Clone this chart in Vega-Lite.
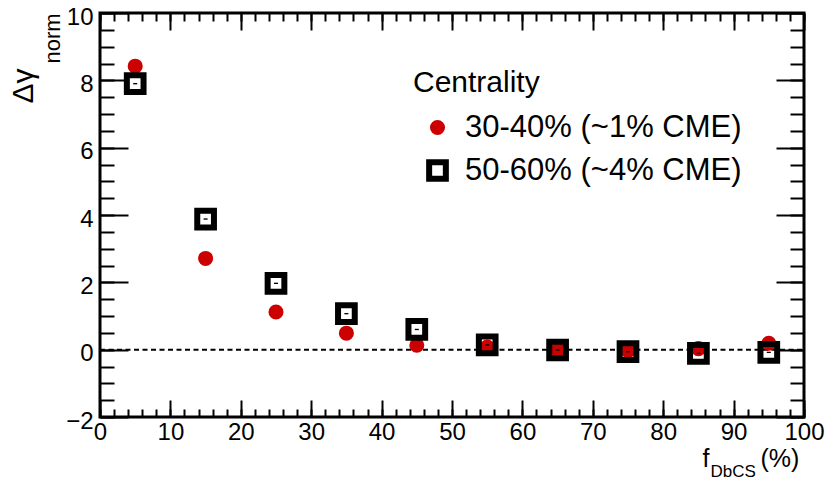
{
  "$schema": "https://vega.github.io/schema/vega-lite/v6.json",
  "width": 704,
  "height": 404,
  "autosize": {"type": "none"},
  "padding": {"left": 100, "top": 13, "right": 26, "bottom": 62},
  "background": "white",
  "config": {
    "font": "Liberation Sans",
    "view": {"stroke": "black", "strokeWidth": 3},
    "axis": {
      "grid": false,
      "domain": false,
      "tickColor": "black",
      "tickWidth": 2,
      "labelColor": "black",
      "titleColor": "black",
      "labelFont": "Liberation Sans",
      "titleFont": "Liberation Sans",
      "titleFontWeight": "normal",
      "labelFlush": false,
      "labelOverlap": false,
      "titleAnchor": null
    },
    "legend": {
      "orient": "none",
      "legendX": 313,
      "legendY": 55,
      "padding": 0,
      "titleFont": "Liberation Sans",
      "titleFontSize": 30,
      "titleFontWeight": "normal",
      "titleColor": "black",
      "titlePadding": 14,
      "labelFont": "Liberation Sans",
      "labelFontSize": 31,
      "labelColor": "black",
      "labelLimit": 400,
      "symbolOffset": 9,
      "labelOffset": 12,
      "rowPadding": 7
    }
  },
  "resolve": {"axis": {"x": "independent", "y": "independent"}},
  "layer": [
    {
      "data": {"values": [{}]},
      "mark": {"type": "rule", "color": "black", "strokeWidth": 2, "strokeDash": [5, 3.5]},
      "encoding": {
        "x": {
          "datum": 0,
          "type": "quantitative",
          "scale": {"domain": [0, 100], "nice": false, "zero": false},
          "axis": {
            "orient": "top",
            "values": [0, 10, 20, 30, 40, 50, 60, 70, 80, 90, 100],
            "tickSize": -17,
            "labels": false,
            "title": "DbCS",
            "titleFontSize": 17,
            "titleX": 610,
            "titleY": 463,
            "titleAlign": "left",
            "titleBaseline": "alphabetic"
          }
        },
        "x2": {"datum": 100},
        "y": {
          "datum": 0,
          "type": "quantitative",
          "scale": {"domain": [-2, 10], "nice": false, "zero": false},
          "axis": {
            "orient": "right",
            "values": [-2, 0, 2, 4, 6, 8, 10],
            "tickSize": -28,
            "labels": false,
            "title": null
          }
        }
      }
    },
    {
      "data": {
        "values": [
          {"f": 5, "dg": 8.42, "Centrality": "30-40% (~1% CME)"},
          {"f": 15, "dg": 2.71, "Centrality": "30-40% (~1% CME)"},
          {"f": 25, "dg": 1.12, "Centrality": "30-40% (~1% CME)"},
          {"f": 35, "dg": 0.49, "Centrality": "30-40% (~1% CME)"},
          {"f": 45, "dg": 0.13, "Centrality": "30-40% (~1% CME)"},
          {"f": 55, "dg": 0.08, "Centrality": "30-40% (~1% CME)"},
          {"f": 65, "dg": 0.0, "Centrality": "30-40% (~1% CME)"},
          {"f": 75, "dg": -0.03, "Centrality": "30-40% (~1% CME)"},
          {"f": 85, "dg": 0.03, "Centrality": "30-40% (~1% CME)"},
          {"f": 95, "dg": 0.19, "Centrality": "30-40% (~1% CME)"}
        ]
      },
      "mark": {"type": "point", "opacity": 1, "filled": true},
      "encoding": {
        "x": {
          "field": "f",
          "type": "quantitative",
          "scale": {"domain": [0, 100], "nice": false, "zero": false},
          "axis": {
            "orient": "bottom",
            "values": [0, 10, 20, 30, 40, 50, 60, 70, 80, 90, 100],
            "tickSize": -17,
            "labelPadding": 39,
            "labelBaseline": "alphabetic",
            "labelFontSize": 24,
            "title": "f",
            "titleFontSize": 25,
            "titleX": 602,
            "titleY": 49,
            "titleAlign": "left",
            "titleBaseline": "alphabetic"
          }
        },
        "y": {
          "field": "dg",
          "type": "quantitative",
          "scale": {"domain": [-2, 10], "nice": false, "zero": false},
          "axis": {
            "orient": "left",
            "values": [-2, 0, 2, 4, 6, 8, 10],
            "format": "d",
            "tickSize": -28,
            "labelPadding": 35,
            "labelBaseline": "middle",
            "labelOffset": 4,
            "labelFontSize": 24,
            "title": "Δγ",
            "titleFontSize": 30,
            "titleAngle": 270,
            "titleX": -68,
            "titleY": 90,
            "titleAlign": "left",
            "titleBaseline": "alphabetic"
          }
        },
        "shape": {
          "field": "Centrality",
          "type": "nominal",
          "scale": {"domain": ["30-40% (~1% CME)", "50-60% (~4% CME)"], "range": ["circle", "square"]}
        },
        "fill": {
          "field": "Centrality",
          "type": "nominal",
          "scale": {"domain": ["30-40% (~1% CME)", "50-60% (~4% CME)"], "range": ["#cc0000", "transparent"]}
        },
        "stroke": {
          "field": "Centrality",
          "type": "nominal",
          "scale": {"domain": ["30-40% (~1% CME)", "50-60% (~4% CME)"], "range": ["transparent", "black"]}
        },
        "strokeWidth": {
          "field": "Centrality",
          "type": "ordinal",
          "scale": {"domain": ["30-40% (~1% CME)", "50-60% (~4% CME)"], "range": [0, 6]}
        },
        "size": {
          "field": "Centrality",
          "type": "ordinal",
          "scale": {"domain": ["30-40% (~1% CME)", "50-60% (~4% CME)"], "range": [227, 279]}
        }
      }
    },
    {
      "data": {
        "values": [
          {"f": 5, "dg": 7.9, "Centrality": "50-60% (~4% CME)"},
          {"f": 15, "dg": 3.88, "Centrality": "50-60% (~4% CME)"},
          {"f": 25, "dg": 1.97, "Centrality": "50-60% (~4% CME)"},
          {"f": 35, "dg": 1.07, "Centrality": "50-60% (~4% CME)"},
          {"f": 45, "dg": 0.6, "Centrality": "50-60% (~4% CME)"},
          {"f": 55, "dg": 0.14, "Centrality": "50-60% (~4% CME)"},
          {"f": 65, "dg": -0.01, "Centrality": "50-60% (~4% CME)"},
          {"f": 75, "dg": -0.06, "Centrality": "50-60% (~4% CME)"},
          {"f": 85, "dg": -0.11, "Centrality": "50-60% (~4% CME)"},
          {"f": 95, "dg": -0.08, "Centrality": "50-60% (~4% CME)"}
        ]
      },
      "mark": {"type": "point", "opacity": 1, "filled": true},
      "encoding": {
        "x": {
          "field": "f",
          "type": "quantitative",
          "scale": {"domain": [0, 100], "nice": false, "zero": false},
          "axis": {
            "orient": "bottom",
            "values": [0, 2, 4, 6, 8, 10, 12, 14, 16, 18, 20, 22, 24, 26, 28, 30, 32, 34, 36, 38, 40, 42, 44, 46, 48, 50, 52, 54, 56, 58, 60, 62, 64, 66, 68, 70, 72, 74, 76, 78, 80, 82, 84, 86, 88, 90, 92, 94, 96, 98, 100],
            "tickSize": -8,
            "labels": false,
            "title": "(%)",
            "titleFontSize": 25,
            "titleX": 660,
            "titleY": 49,
            "titleAlign": "left",
            "titleBaseline": "alphabetic"
          }
        },
        "y": {
          "field": "dg",
          "type": "quantitative",
          "scale": {"domain": [-2, 10], "nice": false, "zero": false},
          "axis": {
            "orient": "left",
            "values": [-2, -1.5, -1, -0.5, 0, 0.5, 1, 1.5, 2, 2.5, 3, 3.5, 4, 4.5, 5, 5.5, 6, 6.5, 7, 7.5, 8, 8.5, 9, 9.5, 10],
            "tickSize": -14,
            "labels": false,
            "title": "norm",
            "titleFontSize": 22,
            "titleAngle": 270,
            "titleX": -41,
            "titleY": 50,
            "titleAlign": "left",
            "titleBaseline": "alphabetic"
          }
        },
        "shape": {
          "field": "Centrality",
          "type": "nominal",
          "scale": {"domain": ["30-40% (~1% CME)", "50-60% (~4% CME)"], "range": ["circle", "square"]}
        },
        "fill": {
          "field": "Centrality",
          "type": "nominal",
          "scale": {"domain": ["30-40% (~1% CME)", "50-60% (~4% CME)"], "range": ["#cc0000", "transparent"]}
        },
        "stroke": {
          "field": "Centrality",
          "type": "nominal",
          "scale": {"domain": ["30-40% (~1% CME)", "50-60% (~4% CME)"], "range": ["transparent", "black"]}
        },
        "strokeWidth": {
          "field": "Centrality",
          "type": "ordinal",
          "scale": {"domain": ["30-40% (~1% CME)", "50-60% (~4% CME)"], "range": [0, 6]}
        },
        "size": {
          "field": "Centrality",
          "type": "ordinal",
          "scale": {"domain": ["30-40% (~1% CME)", "50-60% (~4% CME)"], "range": [227, 279]}
        }
      }
    },
    {
      "data": {
        "values": [
          {"f": 5, "lo": 7.88, "hi": 7.92},
          {"f": 15, "lo": 3.86, "hi": 3.9},
          {"f": 25, "lo": 1.95, "hi": 1.99},
          {"f": 35, "lo": 1.05, "hi": 1.09},
          {"f": 45, "lo": 0.58, "hi": 0.62},
          {"f": 55, "lo": 0.12, "hi": 0.16},
          {"f": 65, "lo": -0.03, "hi": 0.01},
          {"f": 75, "lo": -0.08, "hi": -0.04},
          {"f": 85, "lo": -0.13, "hi": -0.09},
          {"f": 95, "lo": -0.1, "hi": -0.06}
        ]
      },
      "mark": {"type": "rule", "color": "black", "strokeWidth": 4},
      "encoding": {
        "x": {
          "field": "f",
          "type": "quantitative",
          "scale": {"domain": [0, 100], "nice": false, "zero": false},
          "axis": {
            "orient": "top",
            "values": [0, 2, 4, 6, 8, 10, 12, 14, 16, 18, 20, 22, 24, 26, 28, 30, 32, 34, 36, 38, 40, 42, 44, 46, 48, 50, 52, 54, 56, 58, 60, 62, 64, 66, 68, 70, 72, 74, 76, 78, 80, 82, 84, 86, 88, 90, 92, 94, 96, 98, 100],
            "tickSize": -8,
            "labels": false,
            "title": null
          }
        },
        "y": {
          "field": "lo",
          "type": "quantitative",
          "scale": {"domain": [-2, 10], "nice": false, "zero": false},
          "axis": {
            "orient": "right",
            "values": [-2, -1.5, -1, -0.5, 0, 0.5, 1, 1.5, 2, 2.5, 3, 3.5, 4, 4.5, 5, 5.5, 6, 6.5, 7, 7.5, 8, 8.5, 9, 9.5, 10],
            "tickSize": -14,
            "labels": false,
            "title": null
          }
        },
        "y2": {"field": "hi"}
      }
    }
  ]
}
